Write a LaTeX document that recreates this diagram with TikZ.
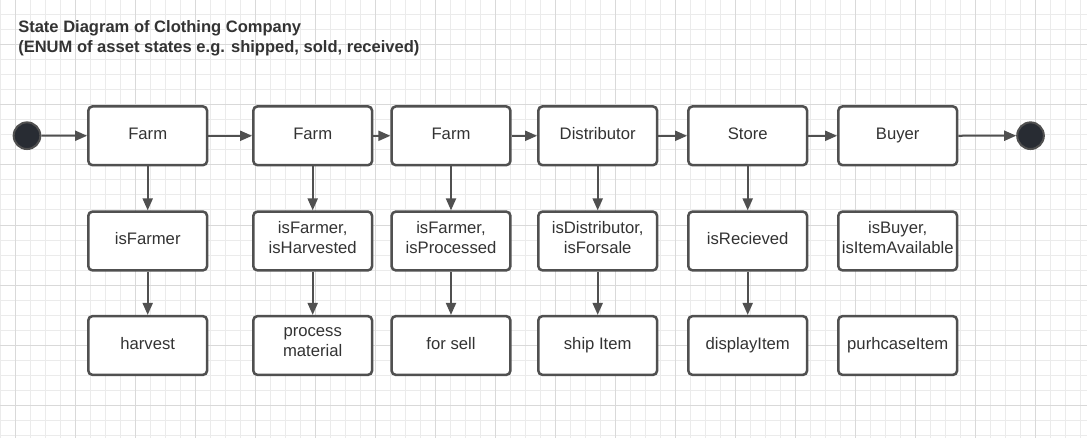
\documentclass[tikz,border=0pt]{standalone}
\usepackage{fontspec}
\setmainfont{Liberation Sans}
\usetikzlibrary{arrows.meta}
\definecolor{lc}{HTML}{505050}
\definecolor{tc}{HTML}{333333}
\definecolor{dotc}{HTML}{282C33}
\definecolor{gminor}{HTML}{EBEBEB}
\definecolor{gmajor}{HTML}{D9D9D9}
\begin{document}
\begin{tikzpicture}[x=0.75pt,y=-0.75pt,
  box/.style={draw=lc, fill=white, line width=1.9pt, rounded corners=3pt,
    minimum width=89pt, minimum height=44pt, inner sep=0pt, align=center,
    text=tc, font=\fontsize{12.5}{15}\selectfont,
    execute at begin node={\rule{0pt}{10.5pt}},
    execute at end node={\rule[-5pt]{0pt}{5pt}}},
  dot/.style={circle, draw=lc, fill=dotc, line width=1.5pt, minimum size=20pt, inner sep=0pt},
  conn/.style={draw=lc, line width=1.5pt, -{Triangle[length=9pt,width=7.5pt]}}]
\useasboundingbox (0,0) rectangle (1087,438);
\fill[white] (0,0) rectangle (1087,438);
% grid
\foreach \i in {0,15,...,1080} \draw[gminor, line width=0.75pt] (\i,0) -- (\i,438);
\foreach \i in {0,15,...,435} \draw[gminor, line width=0.75pt] (0,\i) -- (1087,\i);
\foreach \i in {15,75,...,1080} \draw[gmajor, line width=0.75pt] (\i,0) -- (\i,438);
\foreach \i in {45,105,...,435} \draw[gmajor, line width=0.75pt] (0,\i) -- (1087,\i);
% title
\node[anchor=north west, align=left, inner sep=0pt, text=tc,
  font=\bfseries\fontsize{12.4}{15}\selectfont] (title) at (18,20)
  {State Diagram of Clothing Company\\(ENUM of asset states e.g. shipped, sold, received)};
% nodes
\node[dot] (start) at (27,135.7) {};
\node[dot] (end) at (1030.5,135.7) {};
\node[box] (a1) at (147.7,135.8) {Farm};
\node[box] (b1) at (312.7,135.8) {Farm};
\node[box] (c1) at (451,135.8) {Farm};
\node[box] (d1) at (597.7,135.8) {Distributor};
\node[box] (e1) at (747.7,135.8) {Store};
\node[box] (f1) at (897.7,135.8) {Buyer};
\node[box] (a2) at (147.7,241) {isFarmer};
\node[box] (b2) at (312.7,241) {isFarmer,\\isHarvested};
\node[box] (c2) at (451,241) {isFarmer,\\isProcessed};
\node[box] (d2) at (597.7,241) {isDistributor,\\isForsale};
\node[box] (e2) at (747.7,241) {isRecieved};
\node[box] (f2) at (897.7,241) {isBuyer,\\isItemAvailable};
\node[box] (a3) at (147.7,345.5) {harvest};
\node[box] (b3) at (312.7,345.5) {process\\material};
\node[box] (c3) at (451,345.5) {for sell};
\node[box] (d3) at (597.7,345.5) {ship Item};
\node[box] (e3) at (747.7,345.5) {displayItem};
\node[box] (f3) at (897.7,345.5) {purhcaseItem};
% connectors
\draw[conn] (start) -- (a1);
\draw[conn] (a1) -- (b1);
\draw[conn] (b1) -- (c1);
\draw[conn] (c1) -- (d1);
\draw[conn] (d1) -- (e1);
\draw[conn] (e1) -- (f1);
\draw[conn] (f1) -- (end);
\foreach \c in {a,b,c,d,e} {
  \draw[conn] (\c1) -- (\c2);
  \draw[conn] (\c2) -- (\c3);
}
\end{tikzpicture}
\end{document}
